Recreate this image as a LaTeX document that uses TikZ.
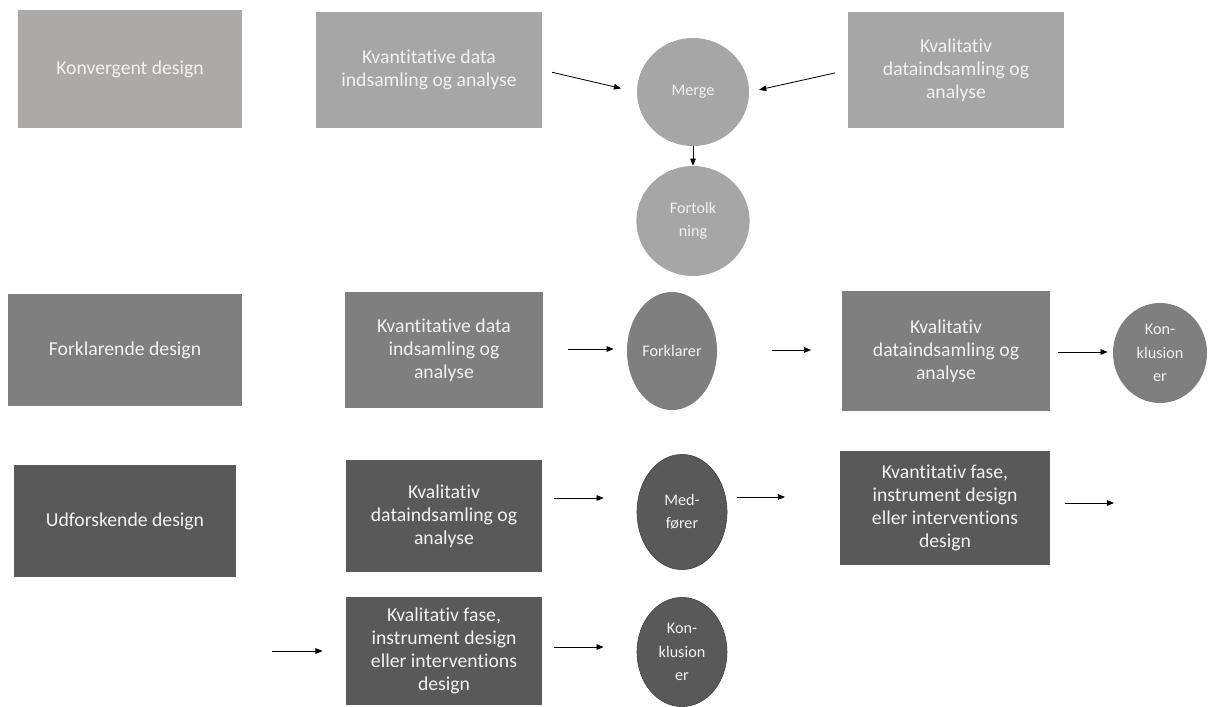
\documentclass[tikz,border=0pt]{standalone}
\usepackage{fontspec}
\setmainfont{Carlito}[RawFeature={-liga;-clig;-dlig;-calt}]
\usetikzlibrary{arrows.meta, shapes.geometric}
\definecolor{greywarm}{HTML}{ADA9A8}
\definecolor{greylight}{HTML}{A6A6A6}
\definecolor{greymid}{HTML}{7F7F7F}
\definecolor{greydark}{HTML}{595959}
\definecolor{greyline}{HTML}{3F3F3F}
\definecolor{offwhite}{HTML}{F2F2F2}

\begin{document}
\begin{tikzpicture}[
    x=0.025cm, y=-0.025cm,
    >={Triangle[length=1.8mm, width=1.4mm]},
    designbox/.style={inner sep=2pt, align=center, text=offwhite, font=\fontsize{14}{16.5}\selectfont},
    roundnode/.style={ellipse, inner sep=0pt, align=center, text=offwhite, font=\fontsize{11.5}{16.5}\selectfont},
    flow/.style={->, line width=0.6pt},
]
    \useasboundingbox (0,0) rectangle (1231,706);

    % Konvergent design
    \node[designbox, fill=greywarm, minimum width=5.6cm, minimum height=2.95cm] (konv) at (130, 69) {Konvergent design};
    \node[designbox, fill=greylight, minimum width=5.65cm, minimum height=2.9cm] (kvant1) at (429, 70) {Kvantitative data\\indsamling og analyse};
    \node[roundnode, fill=greylight, minimum width=2.8cm, minimum height=2.7cm] (merge) at (693, 92) {Merge};
    \node[roundnode, fill=greylight, minimum width=2.83cm, minimum height=2.75cm] (fortolk) at (693, 221) {Fortolk\\ning};
    \node[designbox, fill=greylight, minimum width=5.38cm, minimum height=2.9cm] (kval1) at (956, 70) {Kvalitativ\\dataindsamling og\\analyse};

    \draw[flow, shorten <=0.25cm, shorten >=0.4cm] (kvant1.east) -- (merge.west);
    \draw[flow, shorten <=0.33cm, shorten >=0.25cm] (kval1.west) -- (merge.east);
    \draw[flow] (merge) -- (fortolk);

    % Forklarende design
    \node[designbox, fill=greymid, minimum width=5.85cm, minimum height=2.8cm] (forkl) at (125, 350) {Forklarende design};
    \node[designbox, fill=greymid, minimum width=4.93cm, minimum height=2.88cm] (kvant2) at (444, 350) {Kvantitative data\\indsamling og\\analyse};
    \node[roundnode, fill=greymid, minimum width=2.25cm, minimum height=2.95cm] (forklarer) at (672, 351) {Forklarer};
    \node[designbox, fill=greymid, minimum width=5.18cm, minimum height=2.98cm] (kval2) at (946, 351) {Kvalitativ\\dataindsamling og\\analyse};
    \node[roundnode, fill=greymid, minimum width=2.35cm, minimum height=2.5cm] (konkl2) at (1160, 353) {Kon-\\klusion\\er};

    \draw[flow, shorten <=0.625cm, shorten >=0.325cm] (kvant2.east |- 0,349) -- (forklarer.west |- 0,349);
    \draw[flow, shorten <=1.375cm, shorten >=0.775cm] (forklarer.east |- 0,350) -- (kval2.west |- 0,350);
    \draw[flow, shorten <=0.2cm, shorten >=0.125cm] (kval2.east |- 0,352) -- (konkl2.west |- 0,352);

    % Udforskende design
    \node[designbox, fill=greydark, minimum width=5.55cm, minimum height=2.78cm] (udf) at (125, 521) {Udforskende design};
    \node[designbox, fill=greydark, minimum width=4.9cm, minimum height=2.8cm] (kval3) at (444, 516) {Kvalitativ\\dataindsamling og\\analyse};
    \node[roundnode, fill=greydark, draw=greyline, minimum width=2.25cm, minimum height=2.88cm] (medforer) at (682, 512) {Med-\\fører};
    \node[designbox, fill=greydark, minimum width=5.23cm, minimum height=2.83cm] (kvantfase) at (945, 508) {Kvantitativ fase,\\instrument design\\eller interventions\\design};
    \coordinate (kvantout) at (1114, 503);

    \draw[flow, shorten <=0.3cm, shorten >=0.825cm] (kval3.east |- 0,498) -- (medforer.west |- 0,498);
    \draw[flow, shorten <=0.25cm, shorten >=1.375cm] (medforer.east |- 0,497) -- (kvantfase.west |- 0,497);
    \draw[flow, shorten <=0.375cm] (kvantfase.east |- kvantout) -- (kvantout);

    % second step
    \coordinate (kvalin) at (272, 651);
    \node[designbox, fill=greydark, minimum width=4.9cm, minimum height=2.7cm] (kvalfase) at (444, 651) {Kvalitativ fase,\\instrument design\\eller interventions\\design};
    \node[roundnode, fill=greydark, draw=greyline, minimum width=2.25cm, minimum height=2.73cm] (konkl4) at (682, 652) {Kon-\\klusion\\er};

    \draw[flow, shorten >=0.575cm] (kvalin) -- (kvalfase.west |- kvalin);
    \draw[flow, shorten <=0.3cm, shorten >=0.825cm] (kvalfase.east |- 0,647) -- (konkl4.west |- 0,647);
\end{tikzpicture}
\end{document}
